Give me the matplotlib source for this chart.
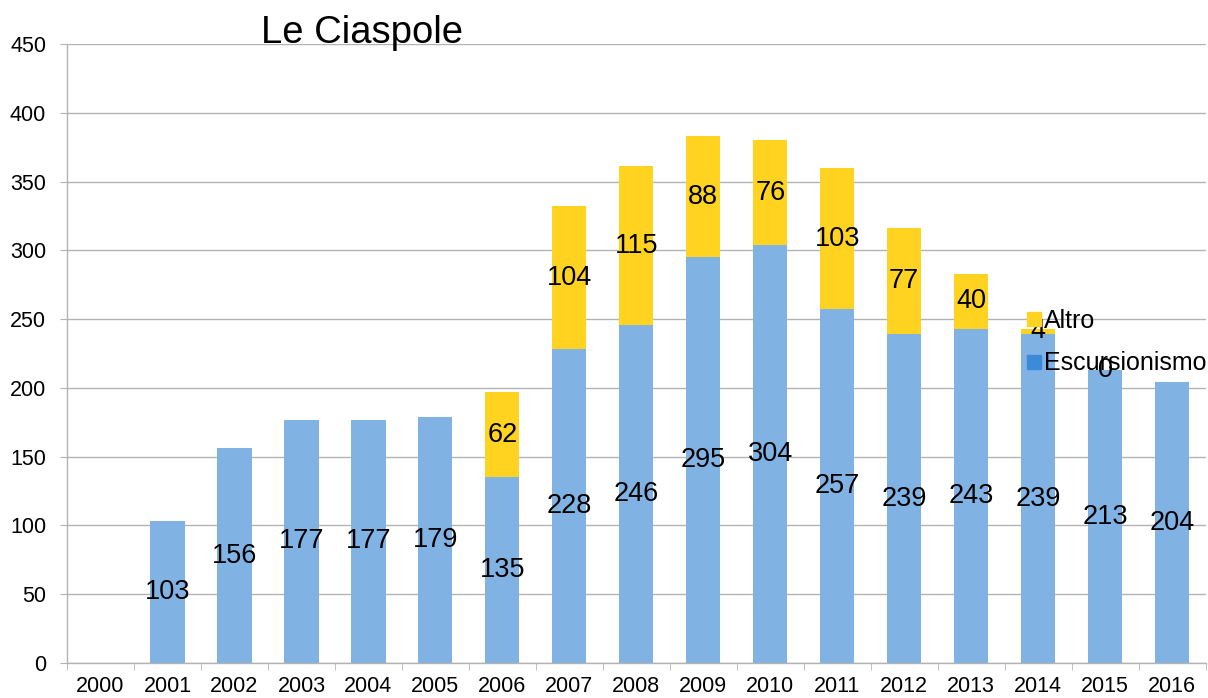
import numpy as np
import matplotlib.pyplot as plt
from matplotlib.lines import Line2D

plt.rcParams["font.family"] = ["Liberation Sans", "DejaVu Sans"]

years = ["2000", "2001", "2002", "2003", "2004", "2005", "2006", "2007", "2008",
         "2009", "2010", "2011", "2012", "2013", "2014", "2015", "2016"]
escursionismo = [np.nan, 103, 156, 177, 177, 179, 135, 228, 246,
                 295, 304, 257, 239, 243, 239, 213, 204]
altro = [np.nan, np.nan, np.nan, np.nan, np.nan, np.nan, 62, 104, 115,
         88, 76, 103, 77, 40, 4, 0, np.nan]

BLUE_BAR = "#80B2E4"
BLUE_KEY = "#3C8BD9"
YELLOW = "#FFD320"
GRID = "#B3B3B3"

fig = plt.figure(figsize=(12.08, 6.98), dpi=100)
ax = fig.add_axes([0.0555, 0.0501, 0.9425, 0.8869])

x = np.arange(len(years))
esc = np.array(escursionismo, dtype=float)
alt = np.array(altro, dtype=float)
base = np.nan_to_num(esc)

ax.bar(x, esc, width=0.51, color=BLUE_BAR, zorder=2)
ax.bar(x, alt, width=0.51, bottom=base, color=YELLOW, zorder=2)

for i in range(len(years)):
    if not np.isnan(esc[i]):
        ax.text(x[i], esc[i] / 2, f"{int(esc[i])}", ha="center", va="center",
                fontsize=19.5, zorder=4)
    if not np.isnan(alt[i]):
        ax.text(x[i], base[i] + alt[i] / 2, f"{int(alt[i])}", ha="center",
                va="center", fontsize=19.5, zorder=4)

ax.set_xlim(-0.5, len(years) - 0.5)
ax.set_ylim(0, 450)
ax.set_yticks(np.arange(0, 451, 50))
ax.set_xticks(x)
ax.set_xticklabels(years)
ax.set_xticks(np.arange(-0.5, len(years), 1), minor=True)
ax.tick_params(axis="x", which="major", length=0, pad=9, labelsize=15.5)
ax.tick_params(axis="x", which="minor", length=5, color=GRID, direction="out")
ax.tick_params(axis="y", length=5, color=GRID, labelsize=15.5, pad=10)

ax.yaxis.grid(True, color=GRID, linewidth=1, zorder=0)
ax.set_axisbelow(True)
for side in ("top", "right"):
    ax.spines[side].set_visible(False)
for side in ("left", "bottom"):
    ax.spines[side].set_color(GRID)
    ax.spines[side].set_linewidth(1)

fig.text(0.30, 0.953, "Le Ciaspole", ha="center", va="center", fontsize=27.5)

handles = [
    Line2D([], [], marker="s", linestyle="none", markersize=10,
           markerfacecolor=YELLOW, markeredgecolor=YELLOW),
    Line2D([], [], marker="s", linestyle="none", markersize=10,
           markerfacecolor=BLUE_KEY, markeredgecolor=BLUE_KEY),
]
fig.legend(handles, ["Altro", "Escursionismo"], loc="upper left",
           bbox_to_anchor=(0.850, 0.558), frameon=False, fontsize=18,
           handlelength=0.6, handletextpad=0.1, labelspacing=0.75,
           borderaxespad=0, borderpad=0)

fig.savefig("out.png", dpi=100)
